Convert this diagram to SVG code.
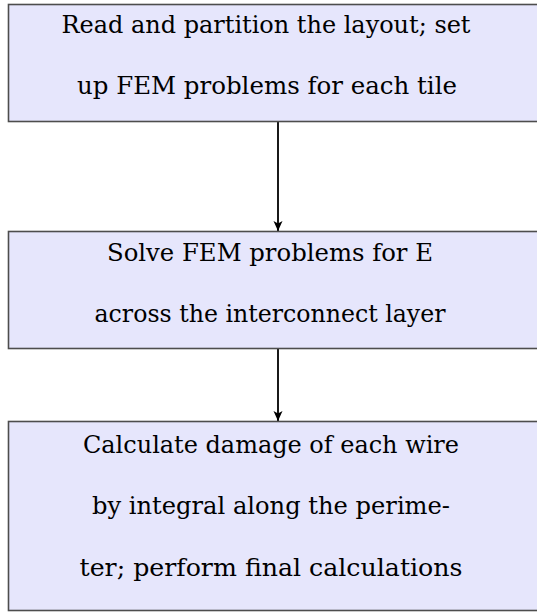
<svg xmlns="http://www.w3.org/2000/svg" width="537" height="612" viewBox="0 0 537 612">
  <style>
    .box { fill: #e6e6fc; stroke: #4d4d4d; stroke-width: 1.6; }
    .lbl { font-family: "DejaVu Serif", "Liberation Serif", serif; font-size: 24px; fill: #000; text-anchor: middle; }
    .edge { stroke: #000; stroke-width: 1.8; fill: none; marker-end: url(#head); }
  </style>
  <defs>
    <!-- stealth-style arrowhead shared by both connectors -->
    <marker id="head" markerWidth="14" markerHeight="14" refX="11" refY="6" orient="auto" markerUnits="userSpaceOnUse">
      <path d="M1,1.5 L11,6 L1,10.5 L3.5,6 Z" fill="#000"/>
    </marker>
  </defs>

  <g id="connectors">
    <line class="edge" x1="278" y1="121" x2="278" y2="231"/>
    <line class="edge" x1="278" y1="349" x2="278" y2="421"/>
  </g>

  <g id="read-partition">
    <rect class="box" x="8.5" y="4.5" width="540" height="117"/>
    <text class="lbl" x="266" y="33" textLength="409" lengthAdjust="spacingAndGlyphs">Read and partition the layout; set</text>
    <text class="lbl" x="267" y="94" textLength="380" lengthAdjust="spacingAndGlyphs">up FEM problems for each tile</text>
  </g>

  <g id="solve-fem">
    <rect class="box" x="8.5" y="231.5" width="540" height="117"/>
    <text class="lbl" x="270" y="261" textLength="326" lengthAdjust="spacingAndGlyphs">Solve FEM problems for E</text>
    <text class="lbl" x="270" y="322" textLength="351" lengthAdjust="spacingAndGlyphs">across the interconnect layer</text>
  </g>

  <g id="calculate-damage">
    <rect class="box" x="8.5" y="421.5" width="540" height="189"/>
    <text class="lbl" x="271" y="453" textLength="376" lengthAdjust="spacingAndGlyphs">Calculate damage of each wire</text>
    <text class="lbl" x="271" y="514" textLength="358" lengthAdjust="spacingAndGlyphs">by integral along the perime-</text>
    <text class="lbl" x="271" y="576" textLength="383" lengthAdjust="spacingAndGlyphs">ter; perform final calculations</text>
  </g>
</svg>
